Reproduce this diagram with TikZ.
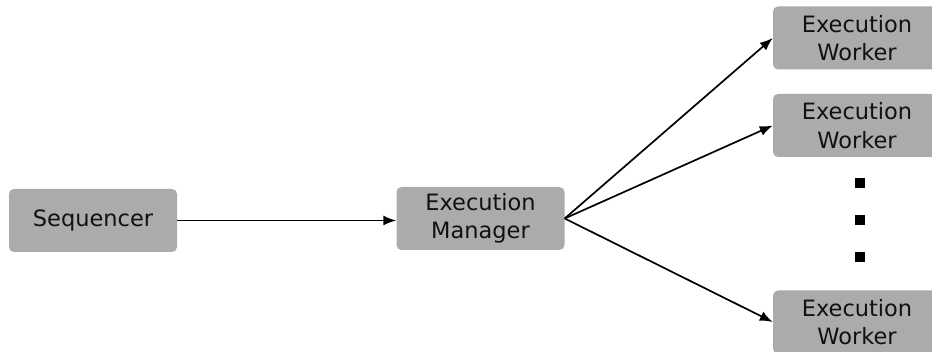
\documentclass[tikz,border=0pt]{standalone}
\usepackage{fontspec}
\setmainfont{DejaVu Sans}
\usetikzlibrary{arrows.meta}
\definecolor{boxgray}{HTML}{ABABAB}
\definecolor{inkdark}{HTML}{111111}
\tikzset{
  stage/.style={fill=boxgray, rounded corners=5pt, minimum width=168pt,
    minimum height=63pt, inner sep=0pt, align=center, text=inkdark,
    font=\fontsize{22.5}{28.5}\selectfont},
  flow/.style={line width=1.7pt, -{Latex[length=13pt,width=10pt]}},
  ellipsisdot/.style={fill=black, minimum size=10pt, inner sep=0pt}
}
\begin{document}
\begin{tikzpicture}[x=1pt, y=-1pt]
  \useasboundingbox (0,0) rectangle (932,352);
  % pipeline stages
  \node[stage] (seq) at (93,220.5) {Sequencer};
  \node[stage] (mgr) at (480.5,218.5) {Execution\\Manager};
  \node[stage] (w1) at (857,38) {Execution\\Worker};
  \node[stage] (w2) at (857,125.5) {Execution\\Worker};
  \node[stage] (w3) at (857,322) {Execution\\Worker};
  % vertical ellipsis between the workers
  \node[ellipsisdot] (d1) at (859.5,183.5) {};
  \node[ellipsisdot] (d2) at (859.5,220) {};
  \node[ellipsisdot] (d3) at (859.5,256.7) {};
  % connectors
  \draw[flow] (seq.east) -- (seq.east -| mgr.west);
  \draw[flow] (mgr.east) -- (w1.west);
  \draw[flow] (mgr.east) -- (w2.west);
  \draw[flow] (mgr.east) -- (w3.west);
\end{tikzpicture}
\end{document}
